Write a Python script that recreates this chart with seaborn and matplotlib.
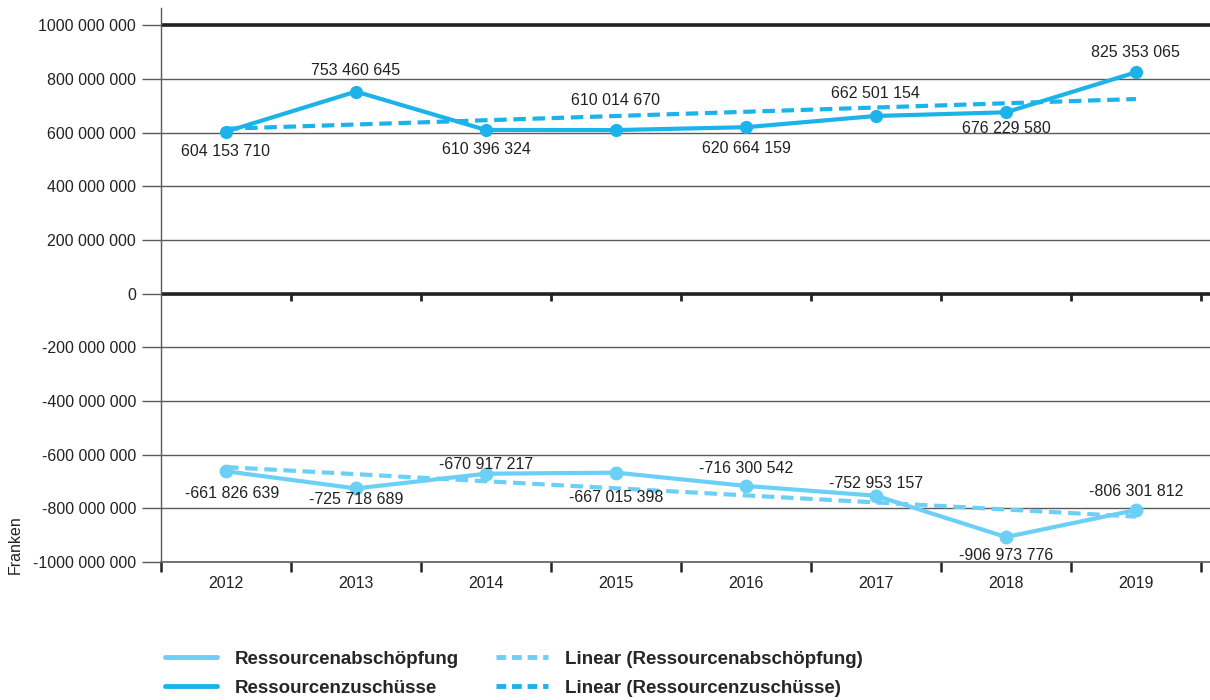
import numpy as np
import pandas as pd
import matplotlib.pyplot as plt
import seaborn as sns
from matplotlib.lines import Line2D

years = ['2012', '2013', '2014', '2015', '2016', '2017', '2018', '2019']
abschoepfung = [-661826639, -725718689, -670917217, -667015398,
                -716300542, -752953157, -906973776, -806301812]
zuschuesse = [604153710, 753460645, 610396324, 610014670,
              620664159, 662501154, 676229580, 825353065]
ytick_vals = [-1000e6, -800e6, -600e6, -400e6, -200e6, 0, 200e6, 400e6, 600e6, 800e6, 1000e6]
ytick_labels = ['-1000 000 000', '-800 000 000', '-600 000 000', '-400 000 000', '-200 000 000', '0',
                '200 000 000', '400 000 000', '600 000 000', '800 000 000', '1000 000 000']

sns.set_style('white')
plt.rcParams['font.family'] = ['Liberation Sans', 'DejaVu Sans']

c_abs = '#6ccff5'
c_zu = '#1cb2ea'
dash = (0, (3, 1.6))

def fmt(v):
    s = f'{abs(v):,}'.replace(',', ' ')
    return ('-' if v < 0 else '') + s

df = pd.DataFrame({'x': np.arange(len(years)), 'abs': abschoepfung, 'zu': zuschuesse})
x = df['x'].to_numpy()
trend_abs = np.polyval(np.polyfit(x, df['abs'], 1), x)
trend_zu = np.polyval(np.polyfit(x, df['zu'], 1), x)

fig = plt.figure(figsize=(12.1, 7.0), dpi=100)
ax = fig.add_axes([161 / 1210, 138 / 700, 1049 / 1210, 554 / 700])

# gridlines
for v in ytick_vals[1:]:
    ax.axhline(v, color='#5a5a5a', lw=1.0, zorder=1)
ax.axhline(1000e6, color='#222222', lw=2.6, zorder=1)
ax.axhline(0, color='#222222', lw=2.6, zorder=1)
bounds = np.arange(-0.5, 8, 1)
ax.vlines(bounds[1:], -27e6, 0, color='#222222', lw=2, zorder=1)

sns.lineplot(data=df, x='x', y='abs', ax=ax, color=c_abs, lw=3, marker='o', markersize=10,
             markeredgewidth=0, zorder=3, legend=False)
sns.lineplot(data=df, x='x', y='zu', ax=ax, color=c_zu, lw=3, marker='o', markersize=9.5,
             markeredgewidth=0, zorder=3, legend=False)
ax.plot(x, trend_abs, color=c_abs, lw=3, ls=dash, zorder=2)
ax.plot(x, trend_zu, color=c_zu, lw=3, ls=dash, zorder=2)

# data labels (pixel offsets)
off_zu = [(0, -20), (0, 21), (0, -20), (0, 30), (0, -21), (0, 22), (0, -16), (0, 20)]
off_abs = [(6, -22), (0, -11), (0, 9), (0, -25), (0, 17), (0, 12), (0, -18), (0, 19)]
for i in range(len(years)):
    ax.annotate(fmt(zuschuesse[i]), (x[i], zuschuesse[i]), xytext=off_zu[i],
                textcoords='offset pixels', ha='center', va='center', fontsize=11.5, color='#222222')
    ax.annotate(fmt(abschoepfung[i]), (x[i], abschoepfung[i]), xytext=off_abs[i],
                textcoords='offset pixels', ha='center', va='center', fontsize=11.5, color='#222222')

ax.set_xlim(-0.5, 7.57)
ax.set_ylim(-1000e6, 1065e6)
ax.set_yticks(ytick_vals)
ax.set_yticklabels(ytick_labels)
ax.set_xticks(x)
ax.set_xticklabels(years)
ax.set_xticks(bounds, minor=True)
ax.tick_params(axis='x', which='major', bottom=True, length=0, pad=10, labelsize=11.5, colors='#222222')
ax.tick_params(axis='x', which='minor', bottom=True, length=7, width=1.8, color='#222222', direction='out')
ax.tick_params(axis='y', left=True, length=14, width=1.0, color='#5a5a5a', direction='out', pad=4,
               labelsize=11.5, labelcolor='#222222')
ax.set_xlabel('')
ax.set_ylabel('')
for s in ['top', 'right']:
    ax.spines[s].set_visible(False)
ax.spines['left'].set_color('#5a5a5a')
ax.spines['left'].set_linewidth(1.0)
ax.spines['bottom'].set_color('#5a5a5a')
ax.spines['bottom'].set_linewidth(1.2)

fig.text(15 / 1210, 1 - 545 / 700, 'Franken', rotation=90, ha='center', va='center',
         fontsize=11.5, color='#222222')

handles = [Line2D([], [], color=c_abs, lw=3.5),
           Line2D([], [], color=c_zu, lw=3.5),
           Line2D([], [], color=c_abs, lw=3.5, ls=(0, (2, 1.2))),
           Line2D([], [], color=c_zu, lw=3.5, ls=(0, (2, 1.2)))]
labels = ['Ressourcenabschöpfung', 'Ressourcenzuschüsse',
          'Linear (Ressourcenabschöpfung)', 'Linear (Ressourcenzuschüsse)']
fig.legend(handles, labels, ncol=2, loc='upper left', bbox_to_anchor=(148 / 1210, 1 - 634 / 700),
           frameon=False, handlelength=2.8, handletextpad=0.9, columnspacing=2.0,
           labelspacing=0.62, prop={'weight': 'bold', 'size': 13.5})

fig.savefig('out.png', dpi=100)
